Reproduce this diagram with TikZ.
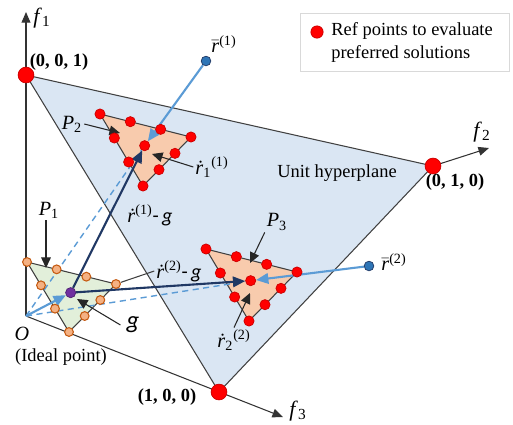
\documentclass[tikz,border=0pt]{standalone}
\usepackage{fontspec}
\setmainfont{Liberation Serif}
\newfontfamily\calibrifont{Carlito}
\usetikzlibrary{arrows.meta}
\definecolor{planeblue}{RGB}{218,230,243}
\definecolor{peach}{RGB}{248,203,173}
\definecolor{palegreen}{RGB}{226,239,218}
\definecolor{ptorange}{RGB}{244,177,131}
\definecolor{ptorangedark}{RGB}{197,90,17}
\definecolor{skyblue}{RGB}{91,155,213}
\definecolor{navyblue}{RGB}{32,56,100}
\definecolor{rbarblue}{RGB}{46,117,182}
\definecolor{gpurple}{RGB}{112,48,160}
\definecolor{edgegray}{RGB}{64,64,64}
\pgfdeclarelayer{front}
\pgfsetlayers{main,front}
\newcommand{\axlab}[2]{\textit{#1}\textsubscript{#2}}
\newcommand{\rdot}{\textit{\.r}}
\newcommand{\rbar}{$\bar{\textit{r}}$}

\begin{document}
\begin{tikzpicture}[x=0.02cm, y=-0.02cm, font=\fontsize{10.5}{12.6}\selectfont,
    refpt/.style={circle, fill=red, draw=red!80!black, line width=0.4pt, inner sep=0pt, minimum size=5.8pt},
    cornerpt/.style={refpt, minimum size=9pt},
    idealpt/.style={circle, fill=ptorange, draw=ptorangedark, line width=0.6pt, inner sep=0pt, minimum size=5pt},
    gpt/.style={circle, fill=gpurple, draw=gpurple!70!black, line width=0.4pt, inner sep=0pt, minimum size=5.8pt},
    rbarpt/.style={circle, fill=rbarblue, draw=navyblue, line width=0.4pt, inner sep=0pt, minimum size=5.5pt},
    axis/.style={draw=black!80, line width=0.6pt, -{Triangle[length=6pt, width=5pt]}},
    planeedge/.style={draw=edgegray, line width=0.6pt},
    pointer/.style={black!85, line width=0.6pt, -{Triangle[length=6pt, width=5.5pt]}},
    skyarrow/.style={skyblue, line width=1.2pt, -{Triangle[length=7pt, width=6pt]}},
    navyarrow/.style={navyblue, line width=1.2pt, -{Triangle[length=7pt, width=6pt]}},
    skydash/.style={skyblue, line width=0.8pt, dash pattern=on 3.5pt off 2.5pt},
    mathlbl/.style={font=\fontsize{11.5}{13}\selectfont, inner sep=1pt},
    coordlbl/.style={font=\fontsize{10.5}{12.6}\selectfont\bfseries}
]
\useasboundingbox (0,0) rectangle (513,424);

% unit hyperplane and axes
\coordinate (O) at (26,316);
\coordinate (c001) at (26,75);
\coordinate (c010) at (433,166);
\coordinate (c100) at (219,392);
\coordinate (f1tip) at (26,12);
\coordinate (f2tip) at (489,148);
\coordinate (f3tip) at (283,417);

\filldraw[fill=planeblue, planeedge] (c001) -- (c010) -- (c100) -- cycle;
\draw[axis] (O) -- (f1tip);
\draw[axis] (O) -- (f3tip);
\draw[axis] (c010) -- (f2tip);

% preferred regions
\coordinate (p1a) at (27,262);
\coordinate (p1b) at (116,284);
\coordinate (p1c) at (69,332);
\coordinate (p2a) at (100,114);
\coordinate (p2b) at (191,137);
\coordinate (p2c) at (143,186);
\coordinate (p3a) at (206,249);
\coordinate (p3b) at (297,272);
\coordinate (p3c) at (249,321);
\filldraw[fill=palegreen, planeedge] (p1a) -- (p1b) -- (p1c) -- cycle;
\filldraw[fill=peach, planeedge] (p2a) -- (p2b) -- (p2c) -- cycle;
\filldraw[fill=peach, planeedge] (p3a) -- (p3b) -- (p3c) -- cycle;

% points
\begin{pgfonlayer}{front}
  \node[cornerpt] (v001) at (c001) {};
  \node[cornerpt] (v010) at (c010) {};
  \node[cornerpt] (v100) at (c100) {};
  \foreach \i/\j/\k in {3/0/0,0/3/0,0/0/3,2/1/0,1/2/0,0/2/1,0/1/2,1/0/2,2/0/1} {
    \node[idealpt] (p1-\i\j\k) at (barycentric cs:p1a=\i,p1b=\j,p1c=\k) {};
    \node[refpt] (p2-\i\j\k) at (barycentric cs:p2a=\i,p2b=\j,p2c=\k) {};
    \node[refpt] (p3-\i\j\k) at (barycentric cs:p3a=\i,p3b=\j,p3c=\k) {};
  }
  \node[refpt] (p2-111) at (barycentric cs:p2a=1,p2b=1,p2c=1) {};
  \node[refpt] (p3-111) at (barycentric cs:p3a=1,p3b=1,p3c=1) {};
  \node[gpt] (g) at (barycentric cs:p1a=1,p1b=1,p1c=1) {};
  \node[rbarpt] (rbar1) at (206,61) {};
  \node[rbarpt] (rbar2) at (369,266) {};
\end{pgfonlayer}

% directions
\draw[skydash] (O) -- (p2-111);
\draw[skydash] (O) -- (p3-111);
\draw[skyarrow] (O) -- (g);
\draw[navyarrow] (g) -- (p2-111);
\draw[navyarrow] (g) -- (p3-111);
\draw[skyarrow] (rbar1) -- (p2-111);
\draw[skyarrow] (rbar2) -- (p3-111);

% labels
\node[mathlbl, font=\fontsize{12.5}{14}\selectfont] (lblf1) at (42,18) {\axlab{f}{1}};
\node[mathlbl, font=\fontsize{12.5}{14}\selectfont] (lblf2) at (482,132) {\axlab{f}{2}};
\node[mathlbl, font=\fontsize{12.5}{14}\selectfont] (lblf3) at (298,411) {\axlab{f}{3}};
\node[coordlbl] (lbl001) at (59,62) {(0, 0, 1)};
\node[coordlbl] (lbl010) at (455,182) {(0, 1, 0)};
\node[coordlbl] (lbl100) at (167,397) {(1, 0, 0)};
\node (lblplane) at (337,173) {Unit hyperplane};
\node[mathlbl] (lblO) at (22,334) {\textit{O}};
\node (lblideal) at (61,357) {(Ideal point)};
\node[mathlbl] (lblrbar1) at (224,44) {\rbar\textsuperscript{(1)}};
\node[mathlbl] (lblrbar2) at (394,262) {\rbar\textsuperscript{(2)}};
\node[mathlbl] (lblP1) at (49,210) {\axlab{P}{1}};
\node[mathlbl] (lblP2) at (72,124) {\axlab{P}{2}};
\node[mathlbl] (lblP3) at (277,222) {\axlab{P}{3}};
\node[mathlbl] (lblr11) at (212,167) {\rdot\textsubscript{1}\textsuperscript{(1)}};
\node[mathlbl] (lblr22) at (234,340) {\rdot\textsubscript{2}\textsuperscript{(2)}};
\node[mathlbl] (lblr1g) at (150,215) {\rdot\textsuperscript{(1)}{\calibrifont -\,\textit{g}}};
\node[mathlbl] (lblr2g) at (179,271) {\rdot\textsuperscript{(2)}{\calibrifont -\,\textit{g}}};
\node[font=\calibrifont\itshape\fontsize{14}{16}\selectfont] (lblg) at (133,325) {g};

% pointers
\coordinate (tipP1) at (46,268);
\coordinate (tipP2) at (120,133);
\coordinate (tipP3) at (250,263);
\coordinate (tipr11) at (152,154);
\coordinate (tipr22) at (250,293);
\coordinate (tipg) at (77,299);
\draw[pointer] (lblP1.south -| tipP1) -- (tipP1);
\draw[pointer] (lblP2.east) -- (tipP2);
\draw[pointer] (lblP3.south west) -- (tipP3);
\draw[pointer] (lblr11.west) -- (tipr11);
\draw[pointer] (lblr22.north) -- (tipr22);
\draw[pointer] (lblg.west) -- (tipg);
\draw[planeedge] (lblr2g.west) -- (p1-030);

% legend
\node[draw=black!15, line width=0.5pt, minimum width=4.18cm, minimum height=1.16cm, anchor=north west, inner sep=0pt] (legend) at (300,13) {};
\node[refpt, minimum size=7pt] (legdot) at (317,32) {};
\node[anchor=west, align=left, inner sep=0pt] (legtext) at (331,42.5) {Ref points to evaluate\\preferred solutions};
\end{tikzpicture}
\end{document}
